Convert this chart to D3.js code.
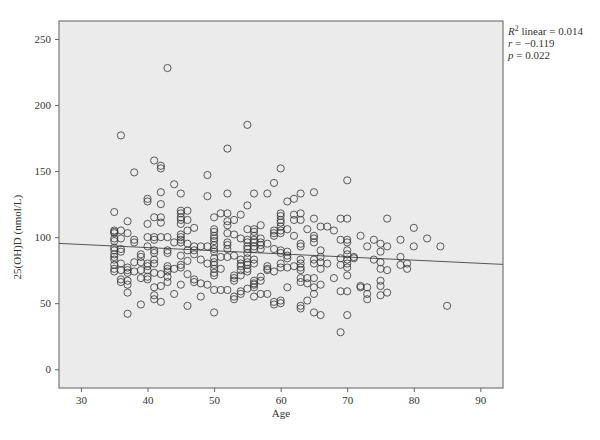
<!DOCTYPE html>
<html>
<head>
<meta charset="utf-8">
<script src="https://cdn.jsdelivr.net/npm/d3@7"></script>
<style>
  body { margin: 0; background: #fff; }
  text { font-family: "Liberation Serif", "DejaVu Serif", serif; fill: #333; }
</style>
</head>
<body>
<div class="canvas"></div>
<script>
// points grouped by age, values in nmol/L
const ages = [35,36,37,38,39,40,41,42,43,44,45,46,47,48,49,50,51,52,53,54,55,56,57,58,59,60,
              61,62,63,64,65,66,67,68,69,70,71,72,73,74,75,76,78,79,80,82,84,85];
const levels = [
  [119,105,104,103,99,97,92,90,87,85,83,79,76,74],
  [177,105,99,91,89,80,75,68,66],
  [112,103,77,75,73,67,64,58,42],
  [149,98,96,81,74],
  [87,85,81,75,69,49],
  [129,127,110,100,93,80,78,75,70,68],
  [158,115,100,98,90,88,83,80,73,62,56,53],
  [154,152,134,125,115,111,100,72,63,51],
  [228,100,90,88,78,76,74,70,66],
  [140,96,76,57],
  [133,120,118,115,113,110,102,100,98,96,86,79,77,64],
  [120,113,105,95,90,82,72,48],
  [107,93,90,87,68,66],
  [93,83,65,55],
  [147,131,93,80,64],
  [115,106,104,101,99,97,94,91,89,84,81,79,76,73,71,60,43],
  [118,85,76,60],
  [167,133,118,112,109,103,96,94,91,85,60],
  [113,102,86,71,69,67,55,53],
  [117,99,83,80,78,75,71,59,57],
  [185,124,106,98,96,93,91,88,84,81,79,76,74,61],
  [133,106,104,101,98,96,93,91,83,80,67,65,64,62,55],
  [109,99,96,94,91,70,67,57],
  [133,95,78,76,75,57],
  [141,105,103,101,91,74,51,49],
  [152,118,116,113,111,108,105,103,90,88,80,77,52,50],
  [127,106,89,86,84,77,62],
  [129,117,113,101,78],
  [133,118,113,95,93,83,80,77,75,69,66,48,46],
  [106,69,65,52],
  [134,114,101,99,96,83,80,69,62,57,43],
  [108,90,85,81,76,64,41],
  [108,80],
  [105,69],
  [114,98,84,79,59,28],
  [143,114,98,96,90,87,83,80,77,71,59,41],
  [85,84],
  [101,63,62],
  [93,62,57,53],
  [98,83],
  [95,89,81,76,67,63,56],
  [114,93,75,58],
  [98,85,79],
  [80,76],
  [107,93],
  [99],
  [93],
  [48]
];
const xTicks = [30,40,50,60,70,80,90];
const yTicks = [0,50,100,150,200,250];
// fitted line: value = a + b * age
const fitA = 101.6, fitB = -0.238;

const points = [];
ages.forEach((a, i) => levels[i].forEach(v => points.push({age: a, val: v})));

const svg = d3.select('.canvas')
    .append('svg')
        .attr('width', 600)
        .attr('height', 440);

const margin = {top: 21, left: 59, right: 97, bottom: 52};
const w = 600 - margin.left - margin.right;
const h = 440 - margin.top - margin.bottom;

const graph = svg.append('g')
    .attr('transform', `translate(${margin.left}, ${margin.top})`);

const x = d3.scaleLinear().domain([26.7, 93.4]).range([0, w]);
const y = d3.scaleLinear().domain([-14.2, 263.6]).range([h, 0]);

graph.append('rect')
    .attr('width', w)
    .attr('height', h)
    .attr('fill', '#ebebeb')
    .attr('stroke', '#777')
    .attr('stroke-width', 1.2);

const xAxis = d3.axisBottom(x).tickValues(xTicks).tickSize(4).tickPadding(4);
const yAxis = d3.axisLeft(y).tickValues(yTicks).tickSize(4).tickPadding(4);

const xAxisGroup = graph.append('g')
    .attr('transform', `translate(0, ${h})`)
    .call(xAxis);
const yAxisGroup = graph.append('g').call(yAxis);

[xAxisGroup, yAxisGroup].forEach(g => {
    g.select('.domain').remove();
    g.selectAll('line').attr('stroke', '#666');
    g.selectAll('text').style('font-size', '11px').attr('fill', '#333')
        .style('font-family', '"Liberation Serif", serif');
});

// fit line across the plot
const x0 = x.domain()[0], x1 = x.domain()[1];
graph.append('line')
    .attr('x1', x(x0)).attr('y1', y(fitA + fitB * x0))
    .attr('x2', x(x1)).attr('y2', y(fitA + fitB * x1))
    .attr('stroke', '#555')
    .attr('stroke-width', 1);

graph.selectAll('circle')
    .data(points)
    .enter()
    .append('circle')
        .attr('cx', d => x(d.age))
        .attr('cy', d => y(d.val))
        .attr('r', 3.6)
        .attr('fill', 'none')
        .attr('stroke', '#333')
        .attr('stroke-width', 0.8);

// axis titles
svg.append('text')
    .attr('x', margin.left + w / 2)
    .attr('y', 417)
    .attr('text-anchor', 'middle')
    .style('font-size', '11px')
    .text('Age');

svg.append('text')
    .attr('transform', `translate(21, ${margin.top + y(100)}) rotate(-90)`)
    .attr('text-anchor', 'middle')
    .style('font-size', '11px')
    .text('25(OH)D (nmol/L)');

// stats note
const note = svg.append('g').attr('transform', 'translate(508, 0)').style('font-size', '11px');
const t1 = note.append('text').attr('y', 35);
t1.append('tspan').style('font-style', 'italic').text('R');
t1.append('tspan').attr('dy', -4).style('font-size', '8px').text('2');
t1.append('tspan').attr('dy', 4).text(' linear = 0.014');
const t2 = note.append('text').attr('y', 47);
t2.append('tspan').style('font-style', 'italic').text('r');
t2.append('tspan').text(' = \u22120.119');
const t3 = note.append('text').attr('y', 59);
t3.append('tspan').style('font-style', 'italic').text('p');
t3.append('tspan').text(' = 0.022');
</script>
</body>
</html>
